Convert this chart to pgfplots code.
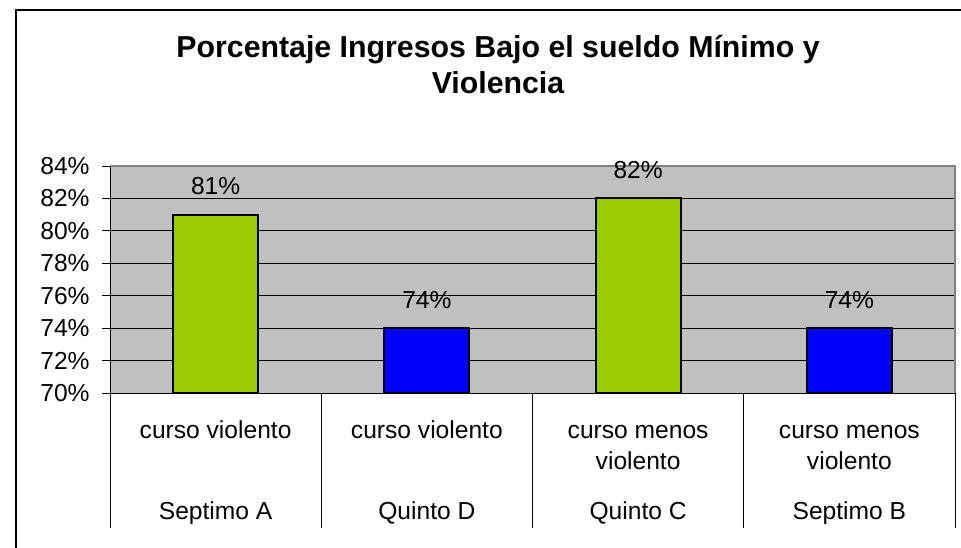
\documentclass[border=0pt]{standalone}
\usepackage{pgfplots}
\pgfplotsset{compat=1.18}
\usepackage{fontspec}
\setmainfont{Liberation Sans}
\definecolor{barverde}{HTML}{99CC00}
\definecolor{barazul}{HTML}{0000FF}
\definecolor{fondo}{HTML}{C0C0C0}
\definecolor{borde}{HTML}{808080}
\newcommand{\lbl}{\fontsize{12.3}{14}\selectfont}

\begin{document}
\begin{tikzpicture}
% 1 px del original = 0.5pt
\useasboundingbox (0,0) rectangle (480.5pt,-273.5pt);
\clip (0,0) rectangle (480.5pt,-273.5pt);
\draw[line width=1pt] (8pt,-5pt) rectangle (500pt,-290pt);

% titulo
\node[font=\bfseries\fontsize{15.15}{18}\selectfont, anchor=base] at (249pt,-28.5pt)
    {Porcentaje Ingresos Bajo el sueldo Mínimo y};
\node[font=\bfseries\fontsize{15.15}{18}\selectfont, anchor=base] at (249pt,-46.5pt)
    {Violencia};

\begin{axis}[
    at={(55pt,-83pt)}, anchor=north west,
    scale only axis, width=422.5pt, height=113.65pt,
    xmin=-0.5, xmax=3.5, ymin=70, ymax=84,
    xtick=\empty,
    ytick={70,72,...,84},
    /pgf/number format/assume math mode=true,
    yticklabel={\lbl\pgfmathprintnumber{\tick}\%},
    yticklabel style={anchor=east, inner sep=0pt, xshift=-6pt},
    axis x line*=bottom, axis y line*=left,
    axis line style={-, black, line width=0.5pt},
    tick align=outside, major tick length=4pt,
    tick style={black, line width=0.5pt},
    ymajorgrids, grid style={black, line width=0.5pt},
    axis background/.style={fill=fondo},
    ybar, bar width=42.5pt, bar shift=0pt,
    nodes near coords={\pgfmathprintnumber{\pgfplotspointmeta}\%},
    every node near coord/.append style={font=\lbl, anchor=base, yshift=10pt},
    clip=false,
]
\addplot[fill=barverde, draw=black, line width=1pt] coordinates {(0,81) (2,82)};
\addplot[fill=barazul, draw=black, line width=1pt] coordinates {(1,74) (3,74)};

% borde gris superior y derecho del area de trazado
\draw[borde, line width=1pt] (rel axis cs:0,1) -- (rel axis cs:1,1) -- (rel axis cs:1,0);

% separadores de categorias
\draw[black, line width=0.5pt] (axis cs:-0.5,70) -- ++(0pt,-67.35pt);
\draw[black, line width=0.5pt] (axis cs:0.5,70) -- ++(0pt,-67.35pt);
\draw[black, line width=0.5pt] (axis cs:1.5,70) -- ++(0pt,-67.35pt);
\draw[black, line width=0.5pt] (axis cs:2.5,70) -- ++(0pt,-67.35pt);
\draw[black, line width=0.5pt] (axis cs:3.5,70) -- ++(0pt,-67.35pt);

% etiquetas de categoria
\node[font=\lbl, anchor=base] at ([yshift=-22.35pt]axis cs:0,70) {curso violento};
\node[font=\lbl, anchor=base] at ([yshift=-22.35pt]axis cs:1,70) {curso violento};
\node[font=\lbl, anchor=base] at ([yshift=-22.35pt]axis cs:2,70) {curso menos};
\node[font=\lbl, anchor=base] at ([yshift=-37.85pt]axis cs:2,70) {violento};
\node[font=\lbl, anchor=base] at ([yshift=-22.35pt]axis cs:3,70) {curso menos};
\node[font=\lbl, anchor=base] at ([yshift=-37.85pt]axis cs:3,70) {violento};

\node[font=\lbl, anchor=base] at ([yshift=-62.85pt]axis cs:0,70) {Septimo A};
\node[font=\lbl, anchor=base] at ([yshift=-62.85pt]axis cs:1,70) {Quinto D};
\node[font=\lbl, anchor=base] at ([yshift=-62.85pt]axis cs:2,70) {Quinto C};
\node[font=\lbl, anchor=base] at ([yshift=-62.85pt]axis cs:3,70) {Septimo B};
\end{axis}
\end{tikzpicture}
\end{document}
